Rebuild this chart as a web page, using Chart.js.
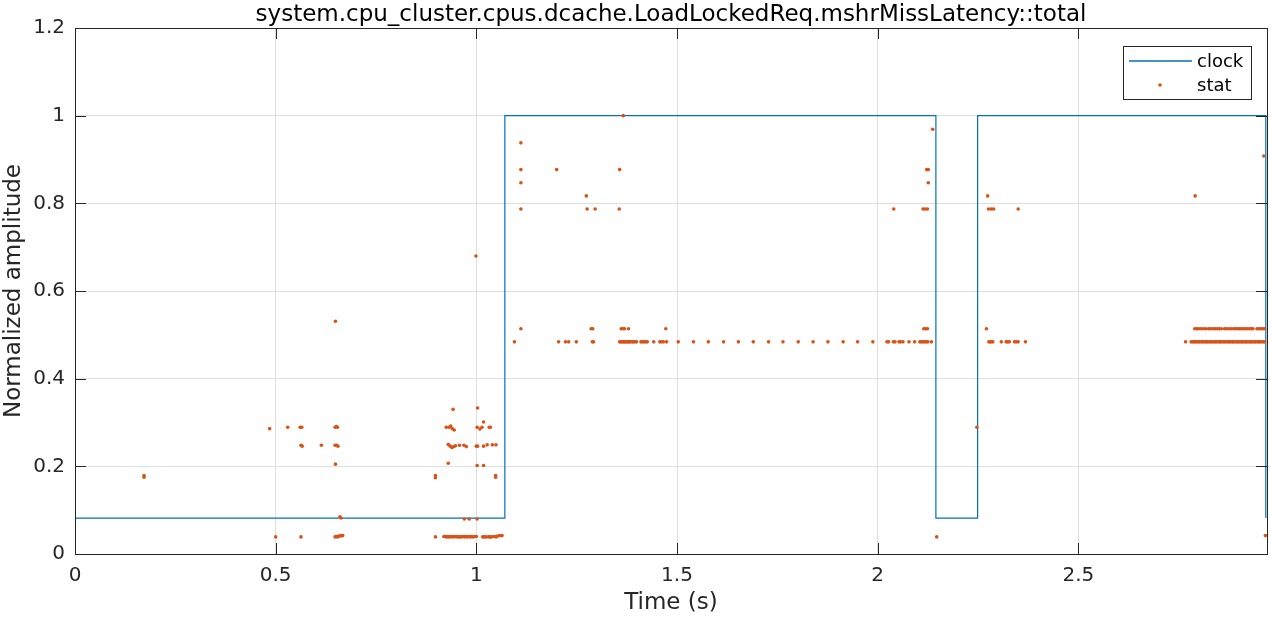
<!DOCTYPE html>
<html>
<head>
<meta charset="utf-8">
<script src="https://cdn.jsdelivr.net/npm/chart.js@4/dist/chart.umd.min.js"></script>
<style>
  html, body { margin: 0; padding: 0; background: #fff; }
  #wrap { width: 1271px; height: 617px; }
</style>
</head>
<body>
<div id="wrap"><canvas id="plot" width="1271" height="617"></canvas></div>
<script>
// axis ticks
var xTicks = [0, 0.5, 1, 1.5, 2, 2.5];
var yTicks = [0, 0.2, 0.4, 0.6, 0.8, 1, 1.2];
var xMax = 2.97;

// clock: levels change at these times (step held until next time)
var clockTime  = [0, 1.071, 2.145, 2.249, 2.967];
var clockLevel = [0.082, 1, 0.082, 1, 0.082];

// stat samples, [time, value]
var statEarly = [
  [0.172,0.179],[0.172,0.175],[0.485,0.286],[0.500,0.039],[0.530,0.289],
  [0.561,0.289],[0.565,0.289],[0.563,0.248],[0.566,0.246],[0.563,0.039],
  [0.614,0.248],[0.649,0.531],[0.648,0.289],[0.651,0.291],[0.654,0.289],
  [0.648,0.248],[0.652,0.248],[0.655,0.246],[0.649,0.205],[0.660,0.085],
  [0.663,0.082],[0.648,0.039],[0.651,0.040],[0.654,0.039],[0.657,0.041],
  [0.660,0.041],[0.664,0.042],[0.667,0.042]
];

var statNearOne = [
  [0.898,0.179],[0.898,0.174],[0.898,0.039],
  [0.919,0.040],[0.922,0.040],[0.925,0.039],[0.928,0.040],[0.931,0.039],
  [0.934,0.040],[0.937,0.039],[0.940,0.040],[0.944,0.039],[0.948,0.040],
  [0.952,0.039],[0.955,0.040],[0.958,0.039],[0.962,0.039],[0.966,0.040],
  [0.970,0.039],[0.973,0.040],[0.977,0.039],[0.981,0.040],[0.985,0.039],
  [0.988,0.040],[0.992,0.039],[0.996,0.040],[1.000,0.040],
  [1.016,0.039],[1.020,0.039],[1.024,0.039],[1.030,0.039],[1.034,0.039],
  [1.038,0.039],[1.044,0.040],[1.049,0.039],[1.053,0.041],[1.058,0.042],
  [1.064,0.042],
  [0.970,0.080],[0.982,0.080],[1.002,0.080],
  [1.048,0.179],[1.048,0.175],
  [0.930,0.207],[1.002,0.202],[1.018,0.202],
  [0.930,0.250],[0.935,0.246],[0.939,0.243],[0.944,0.245],[0.948,0.247],
  [0.958,0.248],[0.969,0.248],[0.975,0.245],[1.000,0.246],[1.003,0.246],
  [1.018,0.246],[1.027,0.249],[1.040,0.249],[1.049,0.249],
  [0.925,0.289],[0.932,0.289],[0.936,0.292],[0.940,0.286],[0.945,0.283],
  [1.002,0.289],[1.009,0.285],[1.014,0.289],[1.032,0.289],[1.035,0.289],
  [1.018,0.301],[0.942,0.330],[1.003,0.333],[0.999,0.680]
];

var statFirstHigh = [
  [1.095,0.484],[1.111,0.514],[1.111,0.787],[1.111,0.847],[1.111,0.877],
  [1.111,0.938],[1.200,0.877],[1.274,0.817],[1.276,0.787],[1.296,0.787],
  [1.356,0.787],[1.357,0.877],[1.366,1.000],
  [1.286,0.514],[1.290,0.514],[1.361,0.514],[1.365,0.514],[1.369,0.514],
  [1.379,0.514],[1.472,0.514],
  [1.205,0.484],[1.222,0.484],[1.230,0.484],[1.249,0.484],[1.289,0.484],
  [1.292,0.484],[1.357,0.484],[1.360,0.484],[1.363,0.484],[1.366,0.484],
  [1.369,0.484],[1.372,0.484],[1.375,0.484],[1.378,0.484],[1.381,0.484],
  [1.384,0.484],[1.388,0.484],[1.391,0.484],[1.395,0.484],[1.399,0.484],
  [1.410,0.484],[1.414,0.484],[1.418,0.484],[1.422,0.484],[1.426,0.484],
  [1.442,0.484],[1.457,0.484],[1.461,0.484],[1.466,0.484],[1.474,0.484],
  [1.503,0.484],[1.541,0.484],[1.578,0.484],[1.616,0.484],[1.653,0.484],
  [1.690,0.484],[1.728,0.484],[1.764,0.484],[1.802,0.484],[1.839,0.484],
  [1.876,0.484],[1.914,0.484],[1.950,0.484],[1.988,0.484],[2.023,0.484],
  [2.027,0.484],[2.039,0.484],[2.043,0.484],[2.053,0.484],[2.057,0.484],
  [2.063,0.484],[2.078,0.484],[2.092,0.484],[2.105,0.484],[2.109,0.484],
  [2.113,0.484],[2.117,0.484],[2.121,0.484],[2.125,0.484],[2.134,0.484],
  [2.040,0.787],[2.113,0.787],[2.118,0.787],[2.124,0.787],
  [2.122,0.877],[2.126,0.877],[2.126,0.847],[2.137,0.969],
  [2.115,0.514],[2.119,0.514],[2.124,0.514],[2.147,0.039]
];

var statSecondHigh = [
  [2.247,0.289],[2.271,0.514],[2.274,0.817],[2.276,0.787],[2.283,0.787],
  [2.289,0.787],[2.350,0.787],
  [2.277,0.484],[2.280,0.484],[2.284,0.484],[2.287,0.484],[2.308,0.484],
  [2.320,0.484],[2.324,0.484],[2.328,0.484],[2.341,0.484],[2.345,0.484],
  [2.350,0.484],[2.368,0.484],
  [2.791,0.817],[2.962,0.908],[2.966,0.042],
  [2.767,0.484],[2.781,0.484],[2.785,0.484],[2.789,0.484],[2.792,0.484],
  [2.796,0.484],[2.800,0.484],[2.803,0.484],[2.807,0.484],[2.810,0.484],
  [2.814,0.484],[2.818,0.484],[2.821,0.484],[2.825,0.484],[2.829,0.484],
  [2.832,0.484],[2.836,0.484],[2.840,0.484],[2.843,0.484],[2.847,0.484],
  [2.851,0.484],[2.854,0.484],[2.858,0.484],[2.862,0.484],[2.865,0.484],
  [2.869,0.484],[2.873,0.484],[2.876,0.484],[2.880,0.484],[2.884,0.484],
  [2.887,0.484],[2.891,0.484],[2.895,0.484],[2.898,0.484],[2.902,0.484],
  [2.906,0.484],[2.909,0.484],[2.913,0.484],[2.917,0.484],[2.920,0.484],
  [2.924,0.484],[2.928,0.484],[2.931,0.484],[2.935,0.484],[2.939,0.484],
  [2.942,0.484],[2.946,0.484],[2.950,0.484],[2.953,0.484],[2.957,0.484],
  [2.961,0.484],[2.964,0.484],
  [2.790,0.514],[2.795,0.514],[2.800,0.514],[2.806,0.514],[2.812,0.514],
  [2.818,0.514],[2.825,0.514],[2.830,0.514],[2.836,0.514],[2.841,0.514],
  [2.846,0.514],[2.851,0.514],[2.856,0.514],[2.864,0.514],[2.869,0.514],
  [2.875,0.514],[2.881,0.514],[2.887,0.514],[2.892,0.514],[2.897,0.514],
  [2.902,0.514],[2.906,0.514],[2.911,0.514],[2.916,0.514],[2.921,0.514],
  [2.926,0.514],[2.931,0.514],[2.935,0.514],[2.945,0.514],[2.950,0.514],
  [2.955,0.514],[2.960,0.514],[2.964,0.514]
];

var titleText = 'system.cpu_cluster.cpus.dcache.LoadLockedReq.mshrMissLatency::total';
var CLOCK_COLOR = '#0072BD';
var STAT_COLOR = '#D95319';
var AXIS_COLOR = '#262626';
var FONT = '"DejaVu Sans", sans-serif';

var clockData = clockTime.map(function (t, i) { return { x: t, y: clockLevel[i] }; });
var statData = [].concat(statEarly, statNearOne, statFirstHigh, statSecondHigh)
  .map(function (p) { return { x: p[0], y: p[1] }; });

// matlab-ish frame: box, inward ticks, title and legend
var matlabFrame = {
  id: 'matlabFrame',
  afterDraw: function (chart) {
    var ctx = chart.ctx, a = chart.chartArea;
    var xs = chart.scales.x, ys = chart.scales.y;
    var tl = 11;
    ctx.save();
    ctx.strokeStyle = AXIS_COLOR;
    ctx.lineWidth = 1;
    ctx.beginPath();
    xTicks.forEach(function (v) {
      var px = Math.round(xs.getPixelForValue(v)) + 0.5;
      ctx.moveTo(px, a.bottom); ctx.lineTo(px, a.bottom - tl);
      ctx.moveTo(px, a.top); ctx.lineTo(px, a.top + tl);
    });
    yTicks.forEach(function (v) {
      var py = Math.round(ys.getPixelForValue(v)) + 0.5;
      ctx.moveTo(a.left, py); ctx.lineTo(a.left + tl, py);
      ctx.moveTo(a.right, py); ctx.lineTo(a.right - tl, py);
    });
    ctx.stroke();
    ctx.strokeRect(Math.round(a.left) + 0.5, Math.round(a.top) + 0.5,
                   Math.round(a.right - a.left), Math.round(a.bottom - a.top));

    // title
    ctx.fillStyle = '#000';
    ctx.font = '23px ' + FONT;
    ctx.textAlign = 'center';
    ctx.textBaseline = 'alphabetic';
    ctx.fillText(titleText, (a.left + a.right) / 2, 21);

    // legend
    var lx = 1123.5, ly = 46.5, lw = 128, lh = 53;
    ctx.fillStyle = '#fff';
    ctx.fillRect(lx, ly, lw, lh);
    ctx.strokeStyle = AXIS_COLOR;
    ctx.lineWidth = 1;
    ctx.strokeRect(lx, ly, lw, lh);
    ctx.strokeStyle = CLOCK_COLOR;
    ctx.lineWidth = 1.5;
    ctx.beginPath();
    ctx.moveTo(1129, 61); ctx.lineTo(1192, 61);
    ctx.stroke();
    ctx.fillStyle = STAT_COLOR;
    ctx.beginPath();
    ctx.arc(1160, 85, 1.8, 0, Math.PI * 2);
    ctx.fill();
    ctx.fillStyle = '#000';
    ctx.font = '18px ' + FONT;
    ctx.textAlign = 'left';
    ctx.textBaseline = 'middle';
    ctx.fillText('clock', 1197, 62);
    ctx.fillText('stat', 1197, 86);
    ctx.restore();
  }
};

function plainTick(v) { return String(v); }

new Chart(document.getElementById('plot'), {
  type: 'scatter',
  data: {
    datasets: [
      {
        label: 'stat',
        data: statData,
        backgroundColor: STAT_COLOR,
        borderWidth: 0,
        pointRadius: 1.8,
        order: 1
      },
      {
        label: 'clock',
        data: clockData,
        showLine: true,
        stepped: 'before',
        borderColor: CLOCK_COLOR,
        borderWidth: 1.2,
        pointRadius: 0,
        fill: false,
        order: 2
      }
    ]
  },
  options: {
    responsive: false,
    animation: false,
    devicePixelRatio: 1,
    layout: { padding: { top: 28, right: 4, left: 0, bottom: 0 } },
    plugins: {
      legend: { display: false },
      title: { display: false },
      tooltip: { enabled: false }
    },
    scales: {
      x: {
        type: 'linear',
        min: 0,
        max: xMax,
        afterBuildTicks: function (s) { s.ticks = xTicks.map(function (v) { return { value: v }; }); },
        afterFit: function (s) { s.height = 63; },
        grid: { color: '#dfdfdf', drawTicks: false },
        border: { display: false },
        ticks: { color: AXIS_COLOR, font: { family: FONT, size: 20 }, padding: 10, maxRotation: 0,
                 callback: plainTick },
        title: { display: true, text: 'Time (s)', color: AXIS_COLOR,
                 font: { family: FONT, size: 23 }, padding: { top: 0, bottom: 0 } }
      },
      y: {
        type: 'linear',
        min: 0,
        max: 1.2,
        afterBuildTicks: function (s) { s.ticks = yTicks.map(function (v) { return { value: v }; }); },
        afterFit: function (s) { s.width = 75; },
        grid: { color: '#dfdfdf', drawTicks: false },
        border: { display: false },
        ticks: { color: AXIS_COLOR, font: { family: FONT, size: 20 }, padding: 10,
                 callback: plainTick },
        title: { display: true, text: 'Normalized amplitude', color: AXIS_COLOR,
                 font: { family: FONT, size: 23 }, padding: { top: 0, bottom: 0 } }
      }
    }
  },
  plugins: [matlabFrame]
});
</script>
</body>
</html>
